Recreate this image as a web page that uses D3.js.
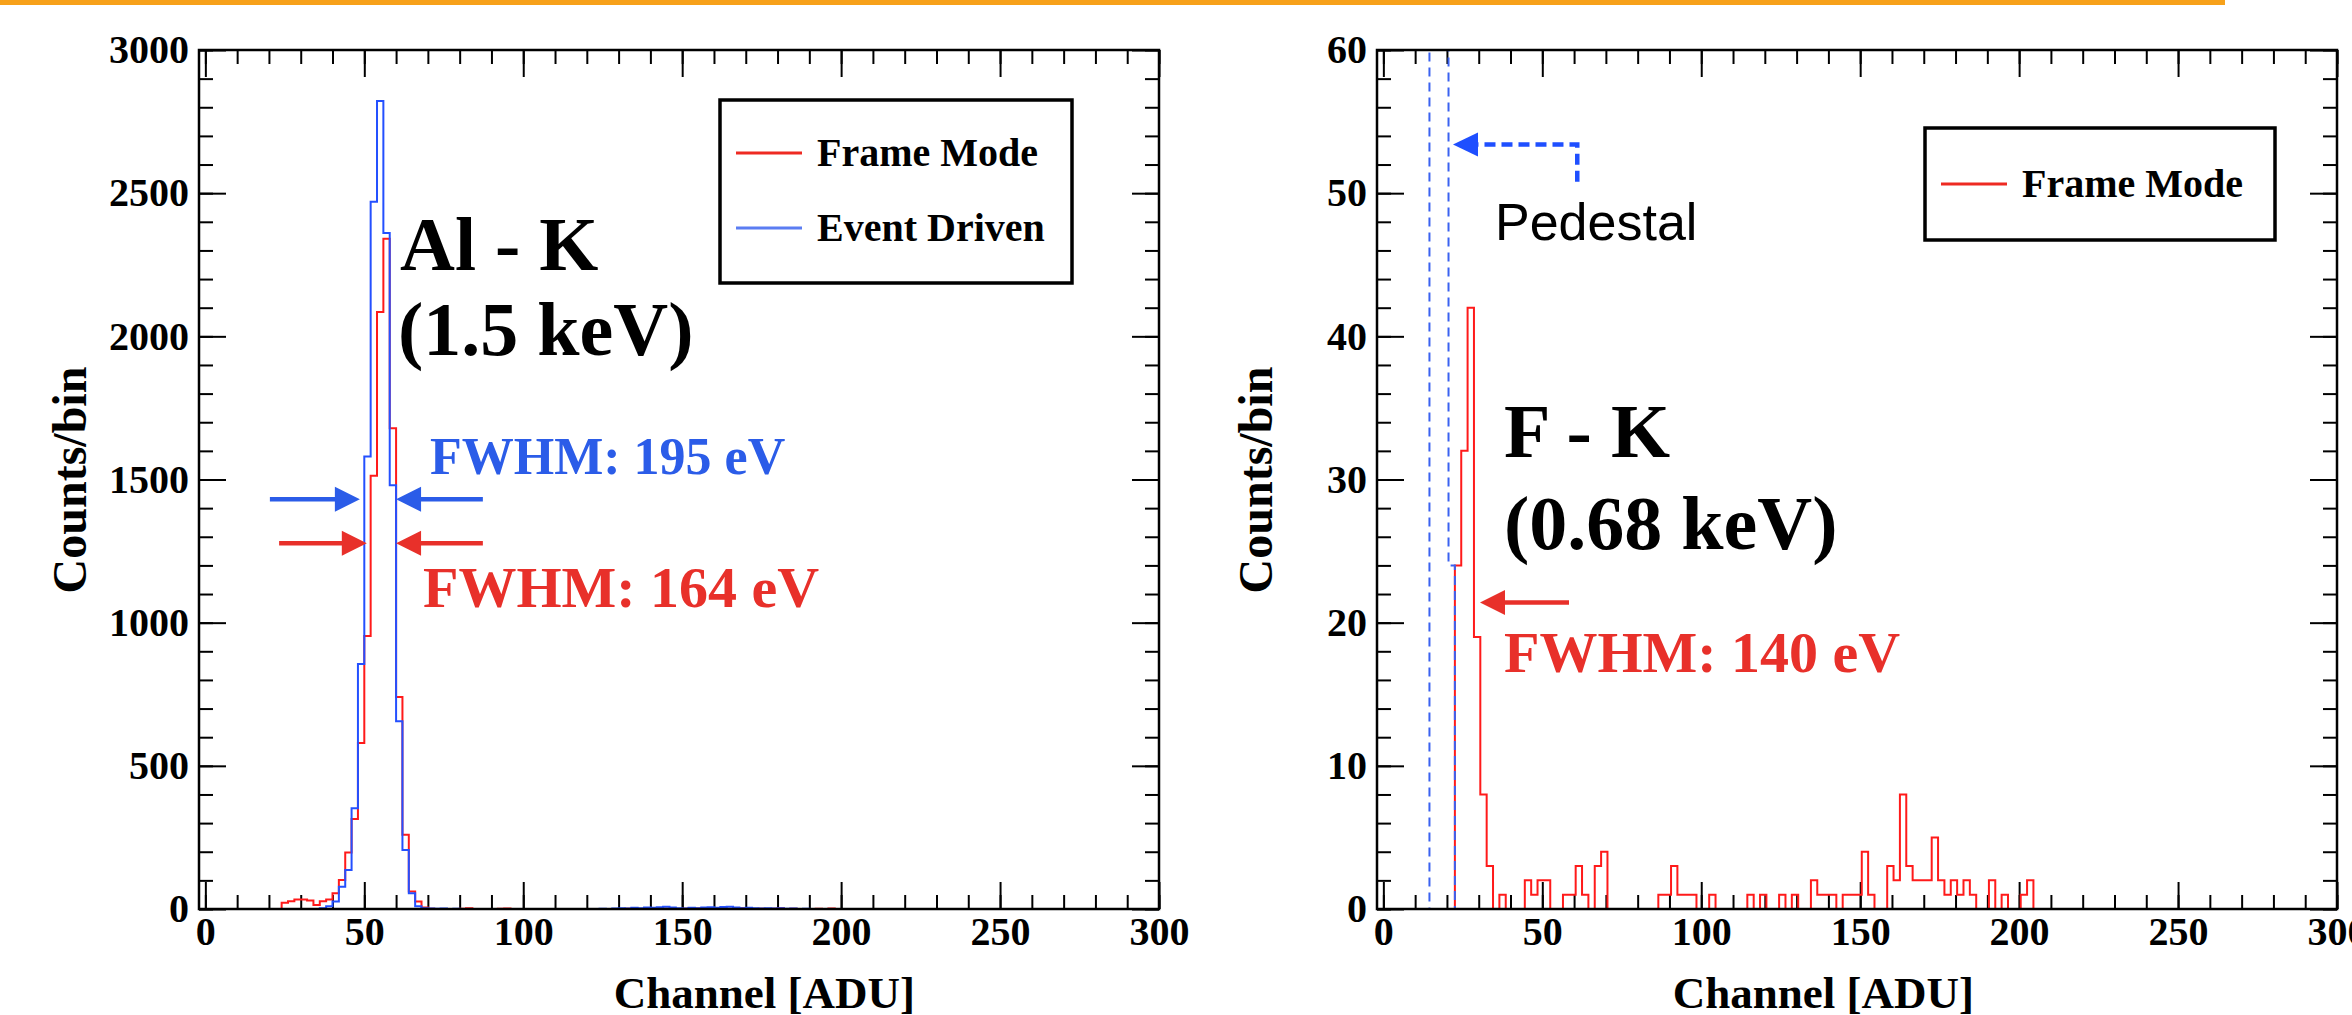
<!DOCTYPE html>
<html lang="en">
<head>
<meta charset="UTF-8">
<title>Al-K and F-K spectra</title>
<script src="https://d3js.org/d3.v7.min.js"></script>
<style>
  body { margin: 0; background: #fff; }
  svg { display: block; }
</style>
</head>
<body>
<svg id="fig"></svg>
<script>
// ---- data ------------------------------------------------------------
// left panel: Al-K, 2 ADU bins starting at 20 ADU
const alBinStart = 20, alBinWidth = 2;
const alFrameMode = [0, 0, 22, 27, 33, 33, 30, 14, 27, 33,
  55, 101, 197, 314, 580, 953, 1513, 2085, 2341, 1679,
  740, 259, 61, 26, 5, 1, 0, 0, 0, 0,
  1, 3, 0, 0, 0, 0, 1, 2, 0, 0,
  0, 0, 0, 0, 0, 0, 0, 0, 0, 0,
  0, 0, 0, 0, 0, 0, 1, 0, 0, 0,
  0, 0, 1, 0, 0, 1, 3, 2, 0, 1,
  0, 1, 0, 2, 3, 1, 0, 1, 0, 1,
  3, 0, 1, 0, 0, 0, 1, 0, 2, 0];
const alEventDriven = [0, 0, 0, 0, 0, 0, 0, 0, 3, 10,
  26, 78, 136, 352, 856, 1580, 2470, 2822, 2361, 1480,
  656, 206, 55, 10, 3, 2, 1, 2, 0, 1,
  0, 0, 0, 0, 0, 0, 0, 0, 0, 0,
  0, 0, 0, 0, 0, 0, 0, 0, 0, 0,
  0, 0, 1, 0, 2, 3, 2, 4, 3, 5,
  4, 6, 8, 5, 3, 2, 4, 3, 5, 6,
  4, 7, 8, 5, 3, 4, 3, 2, 3, 2,
  3, 1, 2, 0, 1, 0, 0, 0, 0, 0];

// right panel: F-K, 2 ADU bins starting at 20.5 ADU
const fBinStart = 20.5, fBinWidth = 2;
const fFrameMode = [0, 24, 32, 42, 19, 8, 3, 0, 1, 0,
  0, 0, 2, 1, 2, 2, 0, 0, 1, 1,
  3, 1, 0, 3, 4, 0, 0, 0, 0, 0,
  0, 0, 0, 1, 1, 3, 1, 1, 1, 0,
  0, 1, 0, 0, 0, 0, 0, 1, 0, 1,
  0, 0, 1, 0, 1, 0, 0, 2, 1, 1,
  1, 0, 1, 1, 1, 4, 1, 0, 0, 3,
  2, 8, 3, 2, 2, 2, 5, 2, 1, 2,
  1, 2, 1, 0, 0, 2, 0, 1, 0, 0,
  1, 2, 0];
// pedestal (off scale), 2 ADU bins starting at 14.5 ADU
const pedBinStart = 14.5;
const pedestal = [420, 1350, 260, 24];

const xTicks = [0, 50, 100, 150, 200, 250, 300];
const alYTicks = [0, 500, 1000, 1500, 2000, 2500, 3000];
const fYTicks = [0, 10, 20, 30, 40, 50, 60];

// ---- layout ----------------------------------------------------------
const width = 2352, height = 1015;
const plotTop = 50, plotBottom = 909;
const serif = "'Liberation Serif','Times New Roman',serif";
const sans = "'Liberation Sans',Arial,Helvetica,sans-serif";
const histRed = "#ff1a1a", histBlue = "#2450ff";
const txtRed = "#e8302a", txtBlue = "#2b5ce8";
const fmt = d3.format("d");

const svg = d3.select("#fig").attr("width", width).attr("height", height);
svg.append("rect").attr("width", width).attr("height", height).attr("fill", "#fff");
svg.append("rect").attr("x", 0).attr("y", 0).attr("width", 2225).attr("height", 5).attr("fill", "#f7a11a");

function panel(id, x0, x1, yMax, yTicks, yMinorStep) {
    const x = d3.scaleLinear().domain([-2, 300]).range([x0, x1]);
    const y = d3.scaleLinear().domain([0, yMax]).range([plotBottom, plotTop]);
    const xMinor = d3.range(0, 301, 10);
    const yMinor = d3.range(0, yMax + 0.001, yMinorStep);

    svg.append("clipPath").attr("id", "clip" + id)
        .append("rect").attr("x", x0).attr("y", plotTop).attr("width", x1 - x0).attr("height", plotBottom - plotTop);

    const style = g => {
        g.select(".domain").remove();
        g.attr("font-family", serif).attr("font-size", 40).attr("font-weight", "bold");
        g.selectAll("line").attr("stroke", "#000").attr("stroke-width", 2);
        g.selectAll("text").attr("fill", "#000");
    };
    // bottom
    svg.append("g").attr("transform", `translate(0,${plotBottom})`)
        .call(d3.axisBottom(x).tickValues(xMinor).tickSize(-14).tickFormat("")).call(style);
    svg.append("g").attr("transform", `translate(0,${plotBottom})`)
        .call(d3.axisBottom(x).tickValues(xTicks).tickSize(-27).tickPadding(8).tickFormat(fmt)).call(style);
    // top
    svg.append("g").attr("transform", `translate(0,${plotTop})`)
        .call(d3.axisTop(x).tickValues(xMinor).tickSize(-14).tickFormat("")).call(style);
    svg.append("g").attr("transform", `translate(0,${plotTop})`)
        .call(d3.axisTop(x).tickValues(xTicks).tickSize(-27).tickFormat("")).call(style);
    // left
    svg.append("g").attr("transform", `translate(${x0},0)`)
        .call(d3.axisLeft(y).tickValues(yMinor).tickSize(-14).tickFormat("")).call(style);
    svg.append("g").attr("transform", `translate(${x0},0)`)
        .call(d3.axisLeft(y).tickValues(yTicks).tickSize(-27).tickPadding(10).tickFormat(fmt)).call(style);
    // right
    svg.append("g").attr("transform", `translate(${x1},0)`)
        .call(d3.axisRight(y).tickValues(yMinor).tickSize(-14).tickFormat("")).call(style);
    svg.append("g").attr("transform", `translate(${x1},0)`)
        .call(d3.axisRight(y).tickValues(yTicks).tickSize(-27).tickFormat("")).call(style);

    return { x, y, x0, x1, id };
}

function stepPts(start, w, vals) {
    const pts = [[-2, 0], [start, 0]];
    vals.forEach((v, i) => { pts.push([start + i * w, v]); pts.push([start + (i + 1) * w, v]); });
    pts.push([start + vals.length * w, 0]);
    pts.push([300, 0]);
    return pts;
}

function drawHist(p, start, w, vals, color, dash) {
    const line = d3.line().x(d => p.x(d[0])).y(d => p.y(d[1]));
    svg.append("path")
        .attr("d", line(stepPts(start, w, vals)))
        .attr("clip-path", `url(#clip${p.id})`)
        .attr("fill", "none").attr("stroke", color).attr("stroke-width", 2)
        .attr("stroke-dasharray", dash || null);
}

function frame(p) {
    svg.append("rect").attr("x", p.x0).attr("y", plotTop)
        .attr("width", p.x1 - p.x0).attr("height", plotBottom - plotTop)
        .attr("fill", "none").attr("stroke", "#000").attr("stroke-width", 2.5);
}

function text(str, x, y, size, color, opts = {}) {
    return svg.append("text").attr("x", x).attr("y", y)
        .attr("font-family", opts.family || serif)
        .attr("font-weight", opts.weight || "bold")
        .attr("font-size", size).attr("fill", color)
        .attr("text-anchor", opts.anchor || "start")
        .text(str);
}

function arrow(p, xTail, xTip, yVal, color) {
    const X1 = p.x(xTail), X2 = p.x(xTip), Y = p.y(yVal);
    const dir = Math.sign(X2 - X1), head = 25;
    svg.append("line").attr("x1", X1).attr("y1", Y).attr("x2", X2 - dir * head * 0.8).attr("y2", Y)
        .attr("stroke", color).attr("stroke-width", 4.5);
    svg.append("path")
        .attr("d", `M${X2},${Y}L${X2 - dir * head},${Y - 12.5}L${X2 - dir * head},${Y + 12.5}Z`)
        .attr("fill", color);
}

function legend(x, y, w, h, entries) {
    svg.append("rect").attr("x", x).attr("y", y).attr("width", w).attr("height", h)
        .attr("fill", "#fff").attr("stroke", "#000").attr("stroke-width", 3.5);
    entries.forEach(e => {
        const cy = y + e.dy;
        svg.append("line").attr("x1", x + 16).attr("x2", x + 82).attr("y1", cy).attr("y2", cy)
            .attr("stroke", e.color).attr("stroke-width", 3);
        text(e.label, x + 97, cy + 13, 40, "#000");
    });
}

// ---- left panel: Al-K ------------------------------------------------
const L = panel("L", 199, 1159, 3000, alYTicks, 100);
drawHist(L, alBinStart, alBinWidth, alFrameMode, histRed);
drawHist(L, alBinStart, alBinWidth, alEventDriven, histBlue);
frame(L);

legend(720, 100, 352, 183, [
    { label: "Frame Mode", color: "#ee2a22", dy: 53 },
    { label: "Event Driven", color: "#5b7df2", dy: 128 }
]);

text("Al - K", 400, 270, 76, "#000");
text("(1.5 keV)", 398, 355, 76, "#000");
text("FWHM: 195 eV", 430, 474, 52, txtBlue);
text("FWHM: 164 eV", 423, 607, 58, txtRed);
arrow(L, 20.3, 48.6, 1431, txtBlue);
arrow(L, 87.3, 60.0, 1431, txtBlue);
arrow(L, 23.2, 50.8, 1277, txtRed);
arrow(L, 87.3, 60.0, 1277, txtRed);

text("Counts/bin", 0, 0, 48, "#000", { anchor: "middle" })
    .attr("transform", "translate(86,480) rotate(-90)");
text("Channel [ADU]", 915, 1008, 45, "#000", { anchor: "end" });

// ---- right panel: F-K ------------------------------------------------
const R = panel("R", 1377, 2337, 60, fYTicks, 2);
drawHist(R, fBinStart, fBinWidth, fFrameMode, histRed);
drawHist(R, pedBinStart, 2, pedestal, "#3a62f0", "9 6");
frame(R);

legend(1925, 128, 350, 112, [
    { label: "Frame Mode", color: "#ee2a22", dy: 56 }
]);

// pedestal marker
{
    const px = R.x(61), pyLow = R.y(50.8), pyArr = R.y(53.4), tip = R.x(21.9);
    svg.append("path").attr("d", `M${px},${pyLow}V${pyArr}H${tip + 22}`)
        .attr("fill", "none").attr("stroke", "#1f4fff").attr("stroke-width", 4.5)
        .attr("stroke-dasharray", "11 6");
    svg.append("path").attr("d", `M${tip},${pyArr}L${tip + 25},${pyArr - 12}L${tip + 25},${pyArr + 12}Z`)
        .attr("fill", "#1f4fff");
}
text("Pedestal", 1495, 240, 52, "#000", { family: sans, weight: "normal" });

text("F - K", 1504, 457, 76, "#000");
text("(0.68 keV)", 1504, 549, 76, "#000");
text("FWHM: 140 eV", 1504, 672, 58, txtRed);
arrow(R, 58.4, 30.4, 21.4, txtRed);

text("Counts/bin", 0, 0, 48, "#000", { anchor: "middle" })
    .attr("transform", "translate(1272,480) rotate(-90)");
text("Channel [ADU]", 1974, 1008, 45, "#000", { anchor: "end" });
</script>
</body>
</html>
